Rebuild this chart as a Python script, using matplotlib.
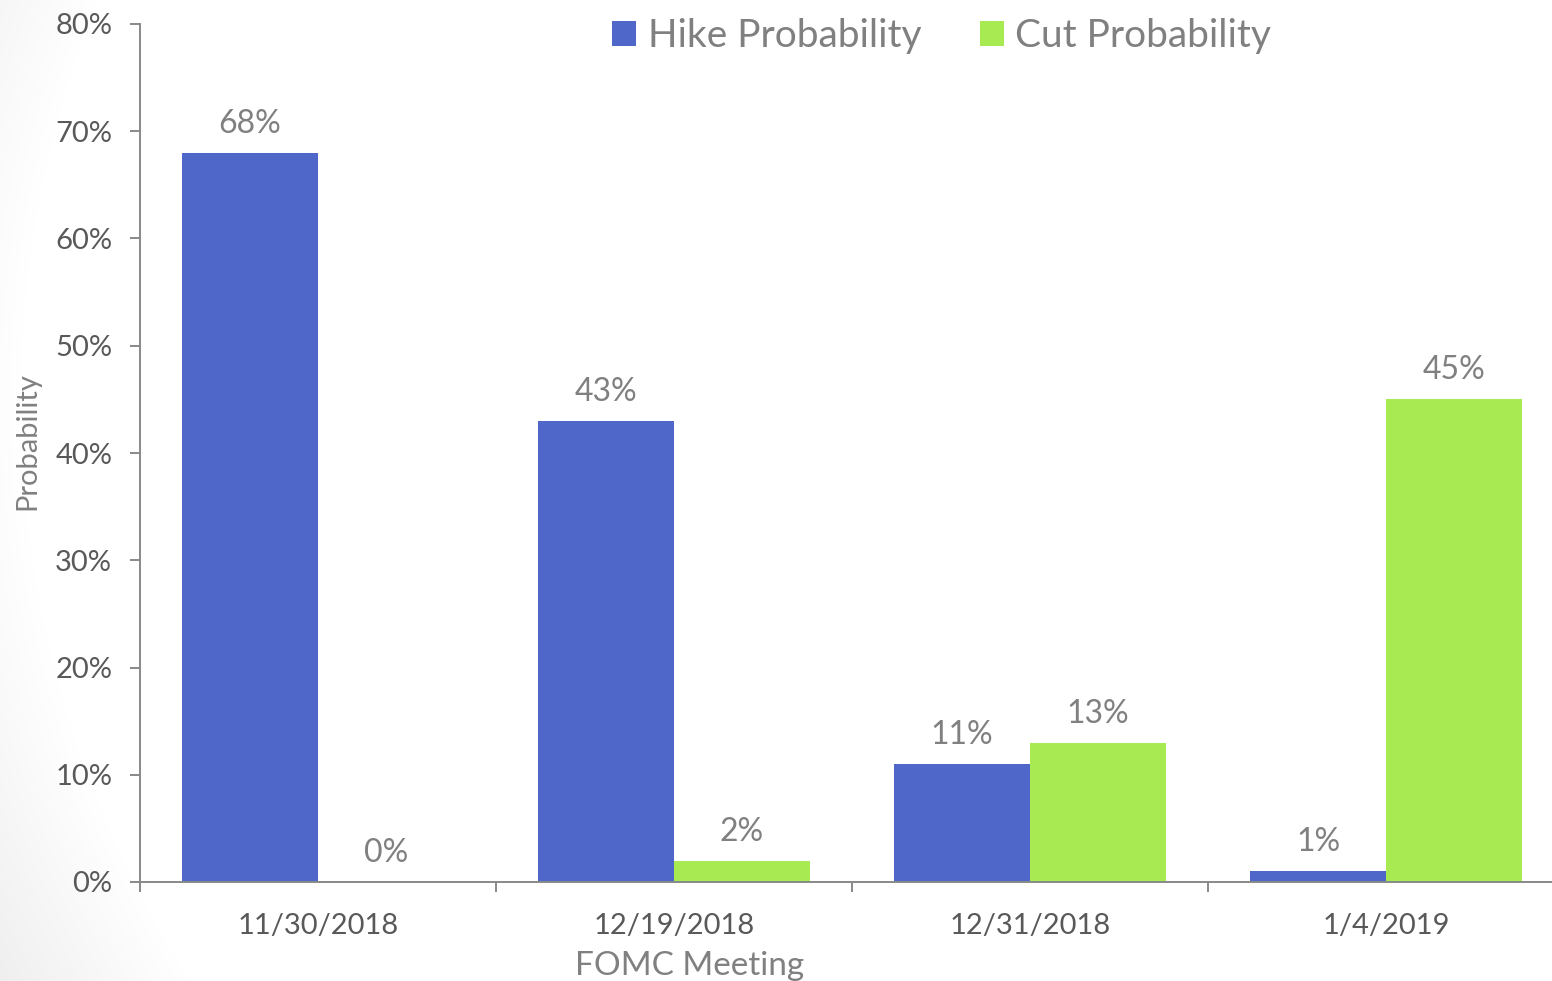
import numpy as np
import matplotlib
matplotlib.use("Agg")
import matplotlib.pyplot as plt
from matplotlib.patches import Patch

# FOMC meeting dates and market-implied probabilities (%)
meetings = ["11/30/2018", "12/19/2018", "12/31/2018", "1/4/2019"]
hike_prob = [68, 43, 11, 1]
cut_prob = [0, 2, 13, 45]
series_names = ["Hike Probability", "Cut Probability"]
y_ticks = [0, 10, 20, 30, 40, 50, 60, 70, 80]

HIKE_COLOR = "#4E67C8"
CUT_COLOR = "#A7EA52"
AXIS_COLOR = "#898989"
TICK_TEXT = "#595959"
LABEL_TEXT = "#808080"

plt.rcParams["font.family"] = ["Lato", "DejaVu Sans"]

W, H = 1552, 981
fig = plt.figure(figsize=(W / 100, H / 100), dpi=100)

# soft vignette in the page background
bg = fig.add_axes([0, 0, 1, 1], zorder=-10)
yy, xx = np.mgrid[0:H, 0:W]
d = np.hypot(xx - 1100, yy - 400)
shade = 1.0 - 0.10 * np.clip((d - 1080) / 260.0, 0, 1)
bg.imshow(np.dstack([shade] * 3), extent=[0, W, H, 0], aspect="auto",
          interpolation="bilinear")
bg.axis("off")

ax = fig.add_axes([140 / W, 99 / H, 1424 / W, 858 / H])
ax.patch.set_alpha(0)

x = np.arange(len(meetings))
bw = 0.382
b1 = ax.bar(x - bw / 2, hike_prob, bw, color=HIKE_COLOR, label=series_names[0])
b2 = ax.bar(x + bw / 2, cut_prob, bw, color=CUT_COLOR, label=series_names[1])

for bars in (b1, b2):
    ax.bar_label(bars, labels=[f"{v:.0f}%" for v in bars.datavalues],
                 padding=10, color=LABEL_TEXT, fontsize=23)

ax.set_xlim(-0.5, len(meetings) - 0.5)
ax.set_ylim(0, 80)
ax.set_yticks(y_ticks)
ax.set_yticklabels([f"{t}%" for t in y_ticks])

# ticks between categories, labels centred under each group
ax.set_xticks(np.arange(-0.5, len(meetings), 1.0))
ax.set_xticklabels([])
ax.set_xticks(x, minor=True)
ax.set_xticklabels(meetings, minor=True)
ax.tick_params(axis="x", which="major", direction="out", length=7,
               width=1.4, color=AXIS_COLOR)
ax.tick_params(axis="x", which="minor", length=0, pad=22,
               labelsize=21, labelcolor=TICK_TEXT)
ax.tick_params(axis="y", direction="out", length=7, width=1.4,
               color=AXIS_COLOR, pad=13, labelsize=21, labelcolor=TICK_TEXT)

for side in ("top", "right"):
    ax.spines[side].set_visible(False)
for side in ("left", "bottom"):
    ax.spines[side].set_color(AXIS_COLOR)
    ax.spines[side].set_linewidth(1.4)

fig.text(690 / W, 1 - 975 / H, "FOMC Meeting", ha="center", va="baseline",
         color=LABEL_TEXT, fontsize=24)
fig.text(27 / W, 1 - 441 / H, "Probability", ha="center", va="center",
         rotation=90, color=LABEL_TEXT, fontsize=21)

handles = [Patch(facecolor=HIKE_COLOR), Patch(facecolor=CUT_COLOR)]
leg = fig.legend(handles, series_names, loc="center left",
                 bbox_to_anchor=(612 / W, 1 - 36 / H), ncol=2, frameon=False,
                 fontsize=28, handlelength=0.62, handleheight=0.62,
                 handletextpad=0.3, columnspacing=1.5, borderpad=0,
                 borderaxespad=0)
for t in leg.get_texts():
    t.set_color(LABEL_TEXT)

fig.savefig("out.png", dpi=100)
